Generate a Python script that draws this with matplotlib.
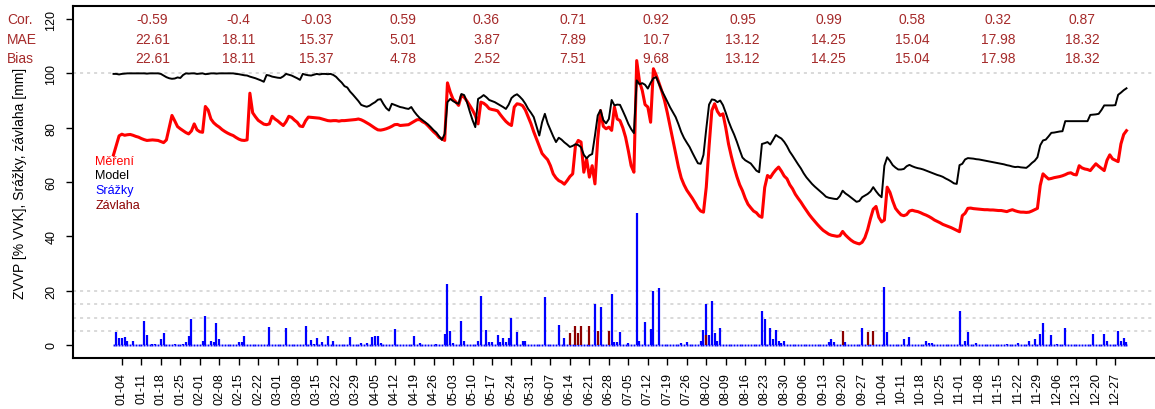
import numpy as np
import pandas as pd
import matplotlib
matplotlib.use("Agg")
import matplotlib.pyplot as plt
from matplotlib.transforms import blended_transform_factory

plt.rcParams['font.family'] = ['Liberation Sans', 'DejaVu Sans']

# ---- data -------------------------------------------------------------
rok_start = pd.Timestamp('2015-01-01')

# measured soil water content (ZVVP, % VVK), one value per day
mereni = [
    # Jan
    70, 73.5, 77, 77.6, 77.2, 77.4, 77.5, 77.2, 76.8, 76.5, 76, 75.6, 75.3, 75.4, 75.5, 75.4,
    75.3, 74.9, 74.5, 75.5, 80, 84.5, 82.5, 80.4, 79.6, 78.9, 78.2, 77.7, 78.8, 81.4, 79.2,
    # Feb
    78.5, 78.3, 87.8, 86.5, 83.2, 81.8, 80.9, 80.2, 79.3, 78.6, 78, 77.5, 77.1, 76.4, 75.8,
    75.4, 75.3, 75.5, 92.7, 85.5, 84, 82.7, 82, 81.3, 81.1, 81.4, 84.2, 83.2,
    # Mar
    82.5, 81.6, 80.8, 82.2, 84.2, 83.8, 82.8, 82, 80.6, 80.4, 82.5, 83.9, 83.8, 83.7, 83.6,
    83.5, 83.2, 82.9, 82.6, 82.5, 82.6, 82.6, 82.4, 82.6, 82.6, 82.7, 82.8, 82.9, 83, 83.2, 82.9,
    # Apr
    82.4, 81.8, 81.2, 80.5, 79.8, 79.2, 79.1, 79.3, 79.6, 80, 80.5, 81.1, 81.2, 80.8, 80.9,
    81, 81.1, 81.7, 82.3, 82.9, 83, 82.2, 81.7, 80.7, 79.6, 78.5, 77.6, 76.4, 75.9, 75.3,
    # May
    96.5, 93.1, 90.5, 89.5, 88.2, 91.9, 91.2, 89.8, 88.2, 86.5, 84.5, 81.4, 89.4, 89, 88.2,
    87, 86.7, 86.5, 86.2, 84.8, 83.5, 82.3, 81.4, 80.8, 87.6, 88.8, 88.6, 88.1, 86.5, 84, 81.5,
    # Jun
    78.5, 75.8, 73, 70.5, 69.3, 68.2, 66, 63, 61.5, 60.5, 60, 59.2, 60.5, 62, 63,
    73.4, 75.3, 74.7, 63.6, 68.5, 61.8, 66, 59.3, 75.9, 86.3, 80.5, 79.6, 80.2, 79, 87.6,
    # Jul
    83.2, 82.6, 80, 76.5, 71.5, 66, 63.6, 104.7, 97, 93.7, 88.5, 87.6, 82, 101.7, 99.3,
    96.5, 93.5, 90, 85.5, 80.5, 75.5, 70.3, 65.5, 61.5, 59, 57, 55.5, 54, 52.3, 50.5, 49.3,
    # Aug
    48.9, 58.1, 73, 86.3, 88.8, 86, 84.5, 85.1, 80, 74, 69.5, 65.5, 62, 59, 56.8,
    54, 51.8, 50.5, 49.3, 48.7, 47.5, 47, 58, 62.4, 61.6, 63.2, 64.5, 65.5, 64, 62.2, 61.2,
    # Sep
    59, 57.5, 55.5, 54, 52.6, 51, 49.5, 48, 46.7, 45.5, 44.3, 43.2, 42.2, 41.5, 40.8,
    40.4, 40.2, 40, 40.2, 41.8, 40.5, 39.5, 38.6, 37.9, 37.5, 37.2, 37.8, 39.5, 42.5, 46.5,
    # Oct
    50, 51, 47, 45.3, 46, 58.1, 56.2, 53, 50.3, 49, 47.9, 47.6, 48, 49.3, 49.6,
    49.3, 49.1, 48.7, 48.2, 47.8, 47.3, 46.7, 46, 45.5, 45, 44.4, 44, 43.6, 43.2, 42.7, 42.2,
    # Nov
    41.7, 47.6, 48.5, 50.3, 50.4, 50.2, 50.1, 50, 49.9, 49.8, 49.8, 49.7, 49.7, 49.6, 49.5,
    49.5, 49.3, 49.1, 49.5, 49.8, 49.4, 49.1, 48.9, 48.9, 48.8, 48.9, 49.3, 49.8, 50.3, 58.7,
    # Dec
    63, 62, 61.1, 61.3, 61.6, 61.8, 62, 62.3, 62.7, 63.2, 63.4, 62.8, 62.6, 66, 65.2,
    64.8, 64.6, 64.2, 65.5, 66.7, 65.8, 65, 64.2, 68, 70, 68.5, 68, 67.5, 74, 77.5, 78.9,
]

# modelled soil water content (ZVVP, % VVK), one value per day
model = [
    # Jan
    99.8, 99.8, 99.6, 99.8, 99.9, 100, 100, 100, 100, 100, 100, 100, 99.9, 100, 100, 100,
    100, 99.8, 99.2, 98.6, 98.2, 98, 98.1, 98.5, 98.3, 99.4, 100, 99.9, 100, 100, 99.8,
    # Feb
    99.9, 100, 99.7, 99.8, 100, 100, 99.9, 100, 100, 100, 100, 100, 100, 99.8, 99.7,
    99.5, 99.3, 99.2, 98.8, 98.5, 98.2, 97.8, 97.4, 96.9, 99.4, 99.2, 98.8, 98.6,
    # Mar
    98.4, 98.3, 98.9, 99.8, 99.5, 99.2, 98.7, 98.2, 97.6, 99.8, 99.5, 99.3, 99.2, 99.5, 99.8,
    99.6, 99.8, 99.8, 99.7, 99.8, 99.4, 98.7, 97.6, 96.6, 95.3, 94.8, 93.3, 92.2, 91, 89.8, 88.4,
    # Apr
    88, 87.7, 88.1, 88.8, 89.4, 90.3, 90.5, 88.7, 87.2, 86.3, 88.8, 88.4, 88, 87.6, 87.4,
    87.1, 86.9, 87.6, 86, 84.7, 83.6, 82.8, 82, 81.2, 80.2, 79.1, 78.2, 76.8, 75.5, 77.7,
    # May
    89.4, 90.6, 89.8, 89.2, 88.8, 92.4, 92, 89.4, 86, 82.8, 80.2, 90.6, 91.2, 92, 91.2,
    90.2, 89.8, 89.4, 88.8, 88.2, 87.6, 86.9, 88.5, 90.9, 91.8, 92.3, 91.4, 90.3, 88.8, 86.9, 85.5,
    # Jun
    83.9, 80.5, 77.1, 82, 85.1, 81.6, 79.2, 76.8, 74.7, 76.3, 75.6, 74.6, 73.8, 72.9, 73.3,
    73.9, 73.6, 72.8, 70, 68.7, 69.8, 70.3, 77.1, 84.5, 86.5, 82.8, 81.6, 83.2, 90.2, 88.2,
    # Jul
    88.5, 88.4, 86.2, 83.9, 81.4, 79.5, 78, 97.4, 96, 96.4, 95.8, 94.4, 96.5, 98.2, 98.6,
    96.2, 93.7, 91.7, 89.6, 87.5, 85.7, 83.9, 81.3, 78.4, 76.2, 74.5, 72.9, 70.8, 68.8, 66.9, 66.7,
    # Aug
    70, 79.6, 88.5, 90.4, 90.2, 89.4, 90, 88.3, 85.5, 82.4, 79.8, 77.5, 74.8, 71.8, 69,
    68, 67.4, 66.8, 65.5, 64.2, 63.6, 74, 74.3, 74.7, 73.8, 75.5, 77.3, 76.6, 76, 74.8, 73.2,
    # Sep
    71.2, 69.7, 68.1, 66.5, 65, 63.2, 61.7, 60.5, 59.3, 58.3, 57.4, 56.5, 55.6, 54.6, 54.2,
    54, 53.8, 53.7, 54.8, 56.8, 55.8, 55.1, 54.3, 53.5, 52.7, 53, 54.4, 55, 55.6, 56.5,
    # Oct
    58.1, 56.6, 55.3, 54.4, 66, 69.1, 67.8, 66.2, 65.3, 64.6, 64.6, 64.8, 65.8, 66.3, 65.8,
    65.4, 65.1, 64.9, 64.6, 64.2, 63.8, 63.4, 63, 62.6, 62.3, 61.9, 61.3, 60.8, 60.2, 59.5, 59.3,
    # Nov
    66.2, 66.7, 68.3, 68.8, 68.7, 68.6, 68.4, 68.3, 68.1, 67.9, 67.7, 67.5, 67.3, 67.1, 66.9,
    66.7, 66.5, 66.2, 66, 65.7, 65.5, 65.6, 65.4, 65.3, 65.2, 66, 67, 67.8, 69.1, 73.5,
    # Dec
    75.3, 75.6, 76.8, 78.1, 78.2, 78.4, 78.6, 78.7, 82.4, 82.4, 82.4, 82.4, 82.4, 82.4, 82.4,
    82.4, 82.4, 84.7, 84.8, 84.9, 85.1, 86.5, 88.2, 88.2, 88.2, 88.2, 88.3, 92.1, 92.9, 93.8, 94.5,
]

# precipitation [mm]: days since 1 January and daily totals
srazky_den = [
    1, 2, 3, 4, 5, 7, 11, 12, 14, 15, 17, 18, 22, 25, 26, 27, 28, 32, 33, 35, 36, 37, 38,
    45, 46, 47, 56, 62, 69, 71, 72, 73, 75, 77, 79, 85, 89, 91, 93, 94, 95, 96, 101, 108,
    110, 116, 119, 120, 121, 122, 125, 126, 131, 132, 134, 135, 136, 138, 139, 140, 141,
    142, 143, 145, 147, 148, 155, 160, 162, 173, 175, 179, 180, 181, 182, 185, 188, 189,
    191, 193, 194, 196, 204, 206, 211, 212, 213, 214, 215, 216, 217, 218, 233, 234, 236,
    237, 238, 239, 240, 241, 257, 258, 259, 263, 269, 277, 278, 284, 286, 292, 293, 294,
    304, 306, 307, 310, 321, 325, 329, 331, 333, 334, 337, 339, 342, 352, 356, 357, 361,
    362, 363, 364,
]
srazky_mm = [
    4.7, 2.6, 2.6, 2.8, 1.6, 1.6, 9.0, 3.7, 0.4, 0.4, 2.2, 4.3, 0.3, 0.4, 1.0, 3.4, 9.6, 1.6, 10.8, 1.6, 1.2, 8.0, 2.2,
    1.0, 1.2, 3.4, 6.6, 6.3, 6.9, 1.8, 0.5, 2.5, 1.2, 3.3, 1.4, 2.8, 0.6, 0.6, 2.8, 3.4, 3.4, 0.6, 5.9, 3.4,
    0.7, 0.3, 4.1, 22.5, 5.3, 0.7, 8.7, 1.6, 1.6, 18.2, 5.6, 1.0, 1.2, 3.8, 1.0, 2.6, 1.0,
    2.6, 9.8, 4.7, 1.6, 1.6, 17.6, 7.4, 2.5, 15.1, 14.1, 18.8, 1.0, 1.0, 4.7, 0.6, 48.6, 1.4,
    8.6, 5.9, 19.8, 20.9, 0.6, 1.2, 1.6, 5.6, 14.9, 3.8, 16.2, 4.3, 1.4, 6.3, 12.4, 9.6, 6.1,
    2.2, 5.5, 1.6, 0.7, 1.6, 1.0, 2.2, 1.0, 1.0, 6.1, 21.2, 4.7, 2.2, 2.8, 1.4, 0.7, 0.7,
    12.4, 1.6, 4.7, 0.6, 0.4, 0.6, 1.6, 2.2, 4.1, 8.1, 3.7, 0.5, 6.3, 4.1, 4.1, 1.6, 5.0,
    1.6, 2.5, 1.0,
]

# irrigation [mm]: days since 1 January and amounts
zavlaha_den = [164, 166, 167, 168, 171, 174, 178, 213, 262, 271, 273]
zavlaha_mm = [4.4, 6.9, 4.4, 6.9, 6.9, 5.3, 5.3, 3.5, 5.3, 4.9, 5.0]

# monthly statistics printed above the curves
cor = ['-0.59', '-0.4', '-0.03', '0.59', '0.36', '0.71', '0.92', '0.95', '0.99', '0.58', '0.32', '0.87']
mae = ['22.61', '18.11', '15.37', '5.01', '3.87', '7.89', '10.7', '13.12', '14.25', '15.04', '17.98', '18.32']
bias = ['22.61', '18.11', '15.37', '4.78', '2.52', '7.51', '9.68', '13.12', '14.25', '15.04', '17.98', '18.32']

legend_labels = ['Měření', 'Model', 'Srážky', 'Závlaha']
y_ticks = [0, 20, 40, 60, 80, 100, 120]

# ---- derived x values ---------------------------------------------------
dny = pd.date_range(rok_start, periods=len(mereni), freq='D')
srazky_x = rok_start + pd.to_timedelta(srazky_den, unit='D')
zavlaha_x = rok_start + pd.to_timedelta(zavlaha_den, unit='D')
tyden_ticks = pd.date_range(rok_start + pd.Timedelta(days=3), dny[-1], freq='7D')
mesic_stred = pd.to_datetime([f'{rok_start.year}-{m:02d}-15' for m in range(1, 13)])

# ---- figure -----------------------------------------------------------
W, H = 1155, 410
fig = plt.figure(figsize=(W / 100, H / 100), dpi=100)
ax = fig.add_axes([73 / W, 1 - 359 / H, 1094 / W, 352 / H])

pad_days = pd.Timedelta(days=0.04 * (len(dny) - 1))
ax.set_xlim(dny[0] - pad_days, dny[-1] + pad_days)
ax.set_ylim(-4.8, 124.8)

# reference levels
for lvl in [100, 20, 15, 10, 5]:
    ax.axhline(lvl, color='#cfcfcf', lw=1.1, linestyle=(0, (2, 2.6)), zorder=1)

# precipitation and irrigation bars
ax.plot(dny, np.zeros(len(dny)), linestyle='none', marker='s', ms=1.4,
        color='blue', markeredgewidth=0, zorder=2)
ax.vlines(srazky_x, 0, srazky_mm, colors='blue', lw=1.6, zorder=3)
ax.vlines(zavlaha_x, 0, zavlaha_mm, colors='#8B0000', lw=1.6, zorder=3)

# soil water content curves
ax.plot(dny, mereni, color='red', lw=2.2, zorder=4, solid_joinstyle='round')
ax.plot(dny, model, color='black', lw=1.4, zorder=5, solid_joinstyle='round')

# monthly statistics
stat_col = 'brown'
for row_y, vals in zip([120.1, 112.7, 105.6], [cor, mae, bias]):
    for xm, s in zip(mesic_stred, vals):
        ax.text(xm, row_y, s, ha='center', va='center', fontsize=10, color=stat_col)
lab_tr = blended_transform_factory(fig.transFigure, ax.transData)
for row_y, s in zip([120.1, 112.7, 105.6], ['Cor.', 'MAE', 'Bias']):
    ax.text(7 / W, row_y, s, transform=lab_tr, ha='left', va='center',
            fontsize=10, color=stat_col, clip_on=False)

# legend as coloured text
leg_x = rok_start - pd.Timedelta(days=6.6)
for yv, s, c in zip([67.7, 62.6, 57.0, 51.5], legend_labels,
                    ['red', 'black', 'blue', '#8B0000']):
    ax.text(leg_x, yv, s, color=c, fontsize=9, ha='left', va='center')

# axes styling
for sp in ax.spines.values():
    sp.set_linewidth(1.5)
ax.set_yticks(y_ticks)
ax.set_yticklabels([str(v) for v in y_ticks])
ax.tick_params(axis='y', length=5, width=1, pad=10.5, labelsize=9, labelrotation=90)
for lbl in ax.get_yticklabels():
    lbl.set_va('center')
    lbl.set_ha('center')
ax.set_xticks(tyden_ticks)
ax.set_xticklabels([d.strftime('%m-%d') for d in tyden_ticks], rotation=90)
ax.tick_params(axis='x', length=5, width=1, pad=5, labelsize=9)
ax.set_ylabel('ZVVP [% VVK], Srážky, závlaha [mm]', fontsize=10)
ax.yaxis.set_label_coords(-0.042, 0.5)

fig.savefig('out.png', dpi=100)
